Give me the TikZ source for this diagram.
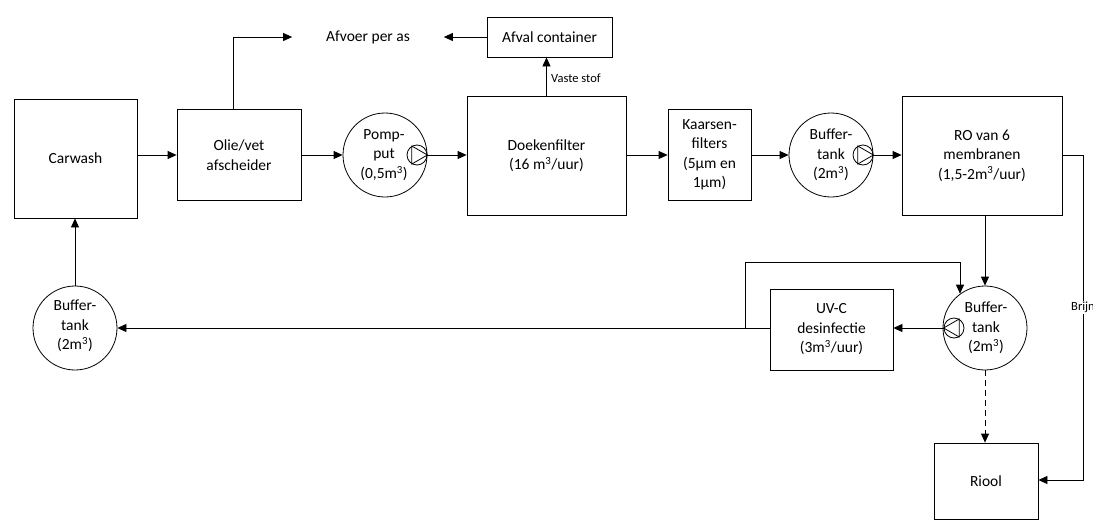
\documentclass[tikz,border=0pt]{standalone}
\usepackage{fontspec}
\setmainfont{Carlito}
\usetikzlibrary{arrows.meta}
\begin{document}
\begin{tikzpicture}[x=1pt, y=-1pt, line width=0.8pt,
  txt/.style={font=\fontsize{15.5}{19.5}\selectfont, align=center},
  small/.style={font=\fontsize{12.5}{14}\selectfont},
  proc/.style={txt, draw, inner sep=0pt},
  tankc/.style={draw, circle, minimum size=84pt, inner sep=0pt},
  pumpc/.style={draw, circle, minimum size=20pt, inner sep=0pt},
  flow/.style={-{Triangle[length=9pt, width=8pt]}}
]
\useasboundingbox (0,0) rectangle (1093,520);

% process boxes
\node[proc, minimum width=123pt, minimum height=119pt] (carwash) at (75.5,158.5) {Carwash};
\node[proc, minimum width=124pt, minimum height=91pt] (olie) at (239,155) {Olie/vet\\afscheider};
\node[proc, minimum width=159pt, minimum height=119pt] (doeken) at (546.5,155.5) {Doekenfilter\\(16 m\textsuperscript{3}/uur)};
\node[proc, minimum width=83pt, minimum height=91pt] (kaarsen) at (709.5,155) {Kaarsen-\\filters\\(5µm en\\1µm)};
\node[proc, minimum width=160pt, minimum height=119pt] (ro) at (982,155.5) {RO van 6\\membranen\\(1,5-2m\textsuperscript{3}/uur)};
\node[proc, minimum width=123pt, minimum height=81pt] (uv) at (831.5,329.5) {UV-C\\desinfectie\\(3m\textsuperscript{3}/uur)};
\node[proc, minimum width=104pt, minimum height=76pt] (riool) at (986,481) {Riool};
\node[proc, minimum width=125pt, minimum height=40pt] (afval) at (549.5,37) {Afval container};
\node[txt, inner xsep=0pt, outer xsep=34pt] (afvoer) at (368,37) {Afvoer per as};

% tanks
\node[tankc] (pompput) at (385,155) {};
\node[txt] at (384,155) {Pomp-\\put\\(0,5m\textsuperscript{3})};
\node[tankc] (buf2) at (831,155) {};
\node[txt] at (831,155) {Buffer-\\tank\\(2m\textsuperscript{3})};
\node[tankc] (buf3) at (985,328) {};
\node[txt] at (986,328) {Buffer-\\tank\\(2m\textsuperscript{3})};
\node[tankc] (buf1) at (75,328) {};
\node[txt] at (75,326) {Buffer-\\tank\\(2m\textsuperscript{3})};

% pump symbols
\node[pumpc] (p1) at (417,155) {};
\draw (p1.0) -- (p1.120) -- (p1.240) -- cycle;
\node[pumpc] (p2) at (863,155) {};
\draw (p2.0) -- (p2.120) -- (p2.240) -- cycle;
\node[pumpc] (p3) at (954,328) {};
\draw (p3.180) -- (p3.60) -- (p3.300) -- cycle;

% main line
\draw[flow] (carwash.east |- olie) -- (olie.west);
\draw[flow] (olie.east) -- (pompput.west);
\draw[flow] (p1.east) -- (doeken.west |- p1);
\draw[flow] (doeken.east |- kaarsen) -- (kaarsen.west);
\draw[flow] (kaarsen.east) -- (buf2.west);
\draw[flow] (p2.east) -- (ro.west |- p2);

% waste streams
\draw[flow] ([xshift=-6pt]olie.north) |- (afvoer.west);
\draw[flow] (afval.west) -- (afvoer.east);
\draw[flow] (doeken.north) -- node[small, right, pos=0.45, xshift=1pt] {Vaste stof} (afval.south -| doeken.north);

% brine to sewer
\coordinate (brA) at (1083,155);
\coordinate (brB) at (1083,480);
\draw[flow] (ro.east |- brA) -- (brA) -- node[small, fill=white, inner sep=1pt, pos=0.47] {Brijn} (brB) -- (riool.east |- brB);

% permeate return
\draw[flow] (buf3 |- ro.south) -- (buf3.north);
\draw[flow, dashed, dash pattern=on 6pt off 4pt] (buf3.south) -- (riool.north -| buf3);
\draw[flow] (p3.west) -- (uv.east |- p3);
\draw[flow] (uv.west |- buf1) -- (buf1.east);
\coordinate (fbA) at (745,328);
\coordinate (fbB) at (960,262);
\draw[flow] (fbA) |- (fbB) -- (fbB |- buf3.126.5);
\draw[flow] (buf1.north) -- (carwash.south -| buf1);
\end{tikzpicture}
\end{document}
